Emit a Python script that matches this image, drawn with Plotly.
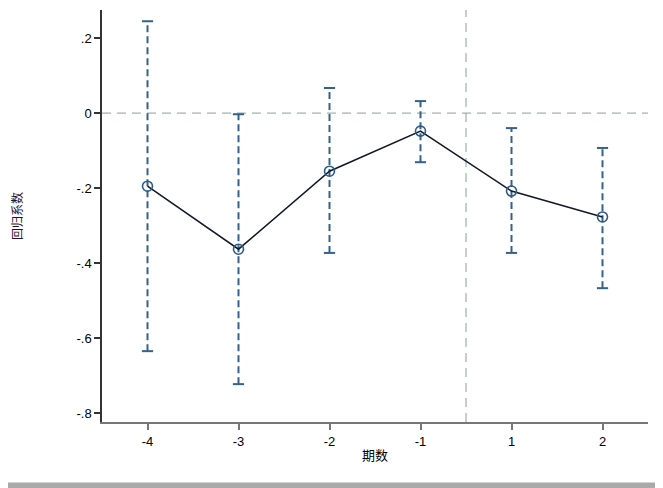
import plotly.graph_objects as go

periods = ["-4", "-3", "-2", "-1", "1", "2"]
coef = [-0.195, -0.363, -0.155, -0.048, -0.208, -0.277]
ci_hi = [0.245, -0.003, 0.067, 0.032, -0.040, -0.093]
ci_lo = [-0.635, -0.723, -0.373, -0.131, -0.373, -0.467]
y_ticks = [0.2, 0, -0.2, -0.4, -0.6, -0.8]
y_tick_labels = [".2", "0", "-.2", "-.4", "-.6", "-.8"]

xpos = list(range(1, len(periods) + 1))
ci_color = "#34628c"

fig = go.Figure()

# dashed CI segments
seg_x, seg_y = [], []
for x, lo, hi in zip(xpos, ci_lo, ci_hi):
    seg_x += [x, x, None]
    seg_y += [lo, hi, None]
fig.add_trace(go.Scatter(x=seg_x, y=seg_y, mode="lines",
                         line=dict(color=ci_color, width=2, dash="7px,4px"),
                         hoverinfo="skip", showlegend=False))
# caps
fig.add_trace(go.Scatter(x=xpos + xpos, y=ci_hi + ci_lo, mode="markers",
                         marker=dict(symbol="line-ew-open", size=8, color=ci_color,
                                     line=dict(color=ci_color, width=2)),
                         hoverinfo="skip", showlegend=False))
# point estimates
fig.add_trace(go.Scatter(x=xpos, y=coef, mode="lines+markers",
                         line=dict(color="#111827", width=1.5),
                         marker=dict(symbol="circle-open", size=10, color="#2b5b88",
                                     line=dict(color="#2b5b88", width=1.6)),
                         showlegend=False))

# reference lines
fig.add_shape(type="line", xref="paper", x0=0, x1=1, yref="y", y0=0, y1=0,
              line=dict(color="#8c9e9e", width=1, dash="9px,6px"), layer="below")
fig.add_shape(type="line", xref="x", x0=4.5, x1=4.5, yref="paper", y0=0, y1=1,
              line=dict(color="#8c9e9e", width=1, dash="9px,6px"), layer="below")
# bottom gray strip
fig.add_shape(type="rect", xref="paper", yref="paper", x0=-0.3, x1=1.1,
              y0=-0.16, y1=-0.147, fillcolor="#aaaaaa", line=dict(width=0))

fig.update_layout(
    width=655, height=480,
    margin=dict(l=94, r=15, t=2, b=66),
    paper_bgcolor="white", plot_bgcolor="white",
    font=dict(family="Liberation Sans, Arial, sans-serif", size=13, color="black"),
    xaxis=dict(range=[0.5, 6.5], tickmode="array", tickvals=xpos, ticktext=periods,
               showgrid=False, zeroline=False, showline=True, linecolor="#777777",
               linewidth=2, ticks="outside", ticklen=6, tickcolor="#777777",
               tickwidth=2, title=dict(text="期数", font=dict(
                   family="Noto Sans CJK SC", size=13), standoff=3)),
    yaxis=dict(range=[-0.824, 0.275], tickmode="array", tickvals=y_ticks,
               ticktext=y_tick_labels, showgrid=False, zeroline=False,
               showline=True, linecolor="#333333", linewidth=1.5,
               ticks="outside", ticklen=6, tickcolor="#333333", tickwidth=1.5,
               title=dict(text="回归系数", font=dict(
                   family="Noto Sans CJK SC", size=12, color="#2a1030"), standoff=54)),
)

fig.write_html("out.html")
